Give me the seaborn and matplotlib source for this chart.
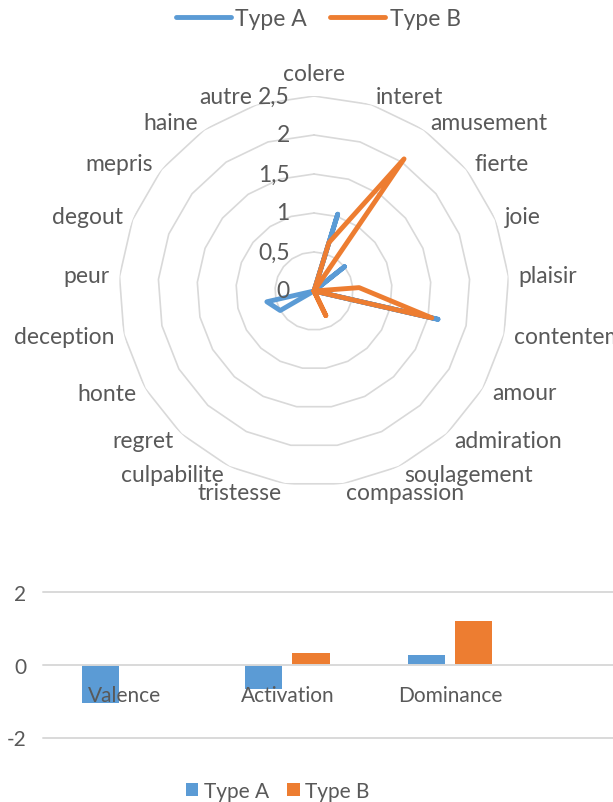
import numpy as np
import pandas as pd
import matplotlib
matplotlib.use("Agg")
import matplotlib.pyplot as plt
import matplotlib.transforms as mtransforms
from matplotlib.lines import Line2D
from matplotlib.patches import Patch
import seaborn as sns

# ---------------- data ----------------
categories = ["colere", "interet", "amusement", "fierte", "joie", "plaisir",
              "contentement", "amour", "admiration", "soulagement", "compassion",
              "tristesse", "culpabilite", "regret", "honte", "deception", "peur",
              "degout", "mepris", "haine", "autre"]
type_a = [0, 1.03, 0, 0.50, 0, 0, 1.63, 0, 0, 0, 0, 0, 0, 0, 0.50, 0.62, 0, 0, 0, 0, 0]
type_b = [0, 0.65, 2.05, 0, 0, 0.58, 1.55, 0, 0, 0.35, 0, 0, 0, 0, 0, 0, 0, 0, 0, 0, 0]
radial_ticks = [0, 0.5, 1, 1.5, 2, 2.5]
radial_labels = ["0", "0,5", "1", "1,5", "2", "2,5"]

dimensions = ["Valence", "Activation", "Dominance"]
dim_a = [-1.05, -0.68, 0.27]
dim_b = [-0.02, 0.31, 1.19]
bar_ticks = [-2, 0, 2]

series_names = ["Type A", "Type B"]
colors = {"Type A": "#5B9BD5", "Type B": "#ED7D31"}
text_color = "#595959"
grid_color = "#D9D9D9"

sns.set_style("white")
plt.rcParams["font.family"] = ["Lato", "DejaVu Sans"]

fig = plt.figure(figsize=(6.13, 8.03), dpi=100)

# ---------------- radar ----------------
cx, cy, R = 314, 292, 195
W, H = 613, 803
ax = fig.add_axes([(cx - R) / W, (H - cy - R) / H, 2 * R / W, 2 * R / H],
                  projection="polar")
ax.set_theta_offset(np.pi / 2)
ax.set_theta_direction(-1)
ax.set_ylim(0, 2.5)
ax.grid(False)
ax.set_xticks([])
ax.set_yticks([])
ax.spines["polar"].set_visible(False)
ax.patch.set_alpha(0)

n = len(categories)
theta = np.arange(n) * 2 * np.pi / n
theta_closed = np.append(theta, theta[0] + 2 * np.pi)

for r in radial_ticks[1:]:
    ax.plot(theta_closed, [r] * (n + 1), color=grid_color, lw=1.2, zorder=0)

rows = []
for name, vals in zip(series_names, [type_a, type_b]):
    vv = list(vals) + [vals[0]]
    for t, v in zip(theta_closed, vv):
        rows.append({"theta": t, "value": v, "type": name})
df_radar = pd.DataFrame(rows)
sns.lineplot(data=df_radar, x="theta", y="value", hue="type", palette=colors,
             sort=False, estimator=None, lw=3.5, legend=False, ax=ax,
             solid_capstyle="round", solid_joinstyle="round")
ax.set_xlabel("")
ax.set_ylabel("")

FS = 16.5

# radial tick labels
tick_tr = mtransforms.offset_copy(ax.transData, fig=fig, x=-17.5, y=0, units="points")
for r, lab in zip(radial_ticks, radial_labels):
    ax.text(0, r, lab, transform=tick_tr, ha="right", va="center",
            fontsize=FS, color=text_color, zorder=5)

# category labels
for t, lab in zip(theta, categories):
    s, c = np.sin(t), np.cos(t)
    if abs(s) < 0.05:
        dx, dy = 0, 12 if c > 0 else -12
        ha = "center"
        va = "bottom" if c > 0 else "top"
    else:
        dx = np.sign(s) * (2 + 8 * abs(s))
        dy = 9 * c
        ha = "left" if s > 0 else "right"
        va = "center"
    tr = mtransforms.offset_copy(ax.transData, fig=fig, x=dx * 0.72, y=dy * 0.72,
                                 units="points")
    ax.text(t, 2.5, lab, transform=tr, ha=ha, va=va, fontsize=FS,
            color=text_color, clip_on=False)

handles = [Line2D([0], [0], color=colors[s], lw=3.5, solid_capstyle="round")
           for s in series_names]
fig.legend(handles, series_names, loc="center", bbox_to_anchor=(0.519, 0.976),
           ncol=2, frameon=False, fontsize=FS, handlelength=2.4,
           handletextpad=0.2, columnspacing=1.0, labelcolor=text_color)

# ---------------- bar chart ----------------
top_px, bot_px, left_px = 592.7, 738.5, 43
axb = fig.add_axes([left_px / W, (H - bot_px) / H, (W - left_px) / W,
                    (bot_px - top_px) / H])
df_bar = pd.DataFrame({
    "dim": dimensions * 2,
    "value": dim_a + dim_b,
    "type": ["Type A"] * 3 + ["Type B"] * 3,
})
sns.barplot(data=df_bar, x="dim", y="value", hue="type", palette=colors,
            saturation=1, width=0.58, gap=0.21, linewidth=0, legend=False, ax=axb)
axb.set_ylim(-2, 2)
axb.set_xlim(-0.5, 3.0)
axb.set_yticks(bar_ticks)
axb.set_yticklabels([str(v) for v in bar_ticks])
axb.yaxis.grid(True, color=grid_color, lw=1.4)
axb.xaxis.grid(False)
axb.set_axisbelow(False)
for sp in axb.spines.values():
    sp.set_visible(False)
axb.spines["bottom"].set_position(("data", 0))
axb.tick_params(axis="x", length=0, pad=15, labelsize=15, labelcolor=text_color)
axb.tick_params(axis="y", length=0, pad=12, labelsize=15, labelcolor=text_color)
axb.set_xlabel("")
axb.set_ylabel("")
for gl in axb.get_ygridlines():
    gl.set_clip_on(False)
axb.patch.set_alpha(0)

bh = [Patch(facecolor=colors[s], edgecolor="none") for s in series_names]
fig.legend(bh, series_names, loc="center", bbox_to_anchor=(0.453, 0.0137),
           ncol=2, frameon=False, fontsize=15, handlelength=0.6, handleheight=0.6,
           handletextpad=0.25, columnspacing=0.9, labelcolor=text_color)

fig.savefig("out.png", dpi=100)
